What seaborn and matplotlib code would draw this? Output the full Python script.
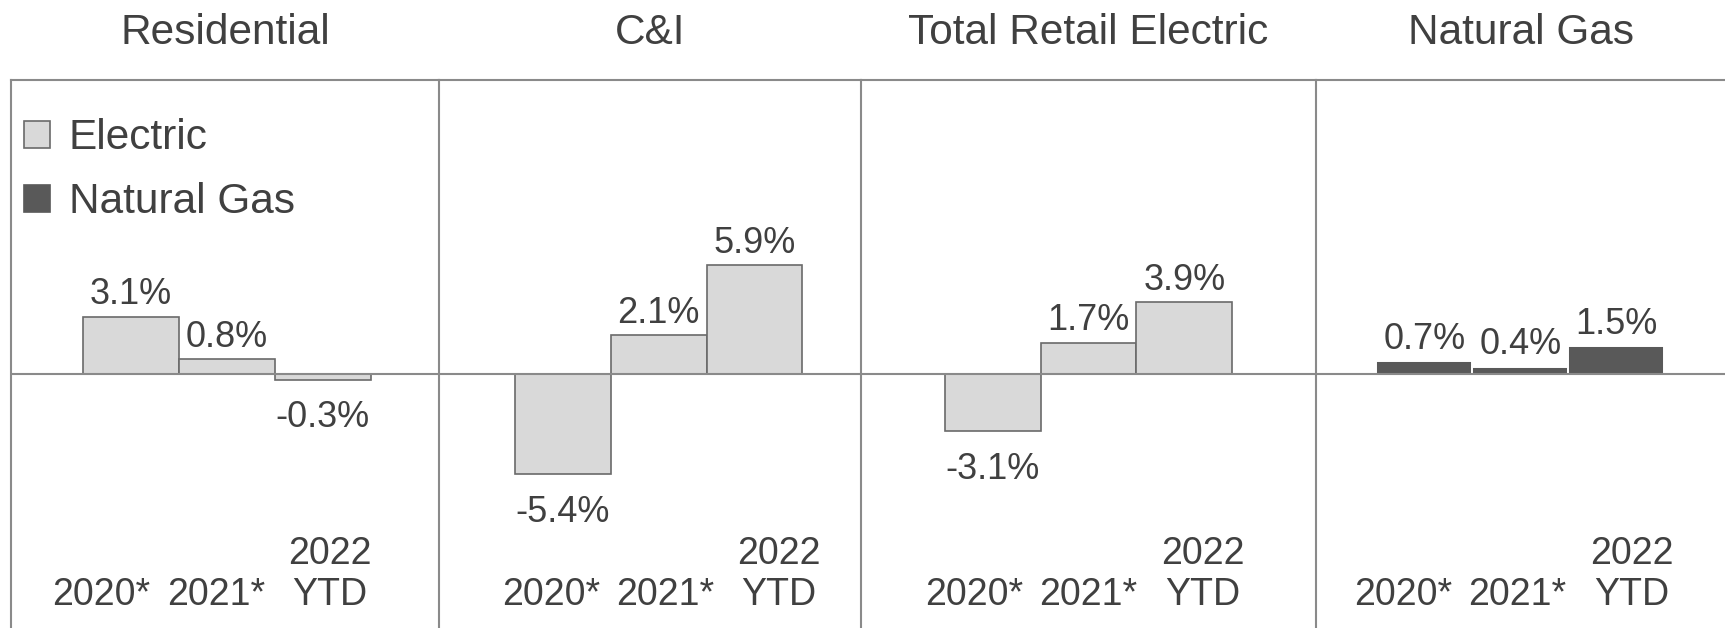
import numpy as np
import pandas as pd
import matplotlib.pyplot as plt
import seaborn as sns
from matplotlib.patches import Patch

sns.set_style('white')
plt.rcParams['font.family'] = ['Liberation Sans', 'DejaVu Sans']

# data
panels = ['Residential', 'C&I', 'Total Retail Electric', 'Natural Gas']
years = ['2020*', '2021*', '2022\nYTD']
residential = [3.1, 0.8, -0.3]
c_and_i = [-5.4, 2.1, 5.9]
total_retail = [-3.1, 1.7, 3.9]
natural_gas = [0.7, 0.4, 1.5]
series = [residential, c_and_i, total_retail, natural_gas]
is_gas = [False, False, False, True]

TEXT = '#404040'
LINE = '#8a8a8a'
ELEC_FILL = '#d9d9d9'
ELEC_EDGE = '#6a6a6a'
GAS_FILL = '#595959'

W, H = 1725, 628
fig = plt.figure(figsize=(W / 100, H / 100), dpi=100)

# panel edges in pixels and x-limits (category units) so the bars line up
edges = [11, 439, 861, 1316, 1725]
xlims = [(-1.25, 3.21), (-1.29, 3.11), (-1.375, 3.375), (-1.13, 3.135)]
label_shift = [-0.115, 0.065, 0.0, -0.03]
top_px = 80
ylim = (-13.73, 15.89)

for k, name in enumerate(panels):
    x0, x1 = edges[k], edges[k + 1]
    ax = fig.add_axes([x0 / W, 0, (x1 - x0) / W, (H - top_px) / H])
    df = pd.DataFrame({'year': years, 'value': series[k]})
    if is_gas[k]:
        sns.barplot(data=df, x='year', y='value', ax=ax, color=GAS_FILL,
                    saturation=1, width=1.0, edgecolor='white', linewidth=1.4)
    else:
        sns.barplot(data=df, x='year', y='value', ax=ax, color=ELEC_FILL,
                    saturation=1, width=1.0, edgecolor=ELEC_EDGE, linewidth=1.2)
    ax.set_xlim(*xlims[k])
    ax.set_ylim(*ylim)
    ax.set_xticks([])
    ax.set_yticks([])
    ax.set_xlabel('')
    ax.set_ylabel('')
    ax.axhline(0, color=LINE, lw=1.5, zorder=3)
    for s in ['right', 'bottom']:
        ax.spines[s].set_visible(False)
    for s in ['top', 'left']:
        ax.spines[s].set_color(LINE)
        ax.spines[s].set_linewidth(1.5)
    ax.patch.set_alpha(0)
    ax.set_title(name, fontsize=30.5, color=TEXT, pad=26)

    # value labels
    for i, v in enumerate(series[k]):
        if v >= 0:
            ax.annotate(f'{v:.1f}%', xy=(i, v), xytext=(0, 3), textcoords='offset points',
                        ha='center', va='bottom', fontsize=26, color=TEXT)
        else:
            ax.annotate(f'{v:.1f}%', xy=(i, v), xytext=(0, -15), textcoords='offset points',
                        ha='center', va='top', fontsize=26, color=TEXT)

    # year labels along the bottom, slightly spread out
    for i, lab in enumerate(years):
        ax.text(i + (i - 1) * 0.19 + label_shift[k], 0.027, lab,
                transform=ax.get_xaxis_transform(),
                ha='center', va='bottom', fontsize=27, color=TEXT, linespacing=1.2)

    if k == 0:
        handles = [Patch(facecolor=ELEC_FILL, edgecolor=ELEC_EDGE, lw=1.2, label='Electric'),
                   Patch(facecolor=GAS_FILL, edgecolor=GAS_FILL, lw=1.2, label='Natural Gas')]
        ax.legend(handles=handles, loc='upper left', bbox_to_anchor=(0.031, 0.93),
                  frameon=False, fontsize=30.5, labelcolor=TEXT, handlelength=0.6,
                  handleheight=0.6, handletextpad=0.45, labelspacing=0.56,
                  borderpad=0, borderaxespad=0)

fig.savefig('out.png', dpi=100)
